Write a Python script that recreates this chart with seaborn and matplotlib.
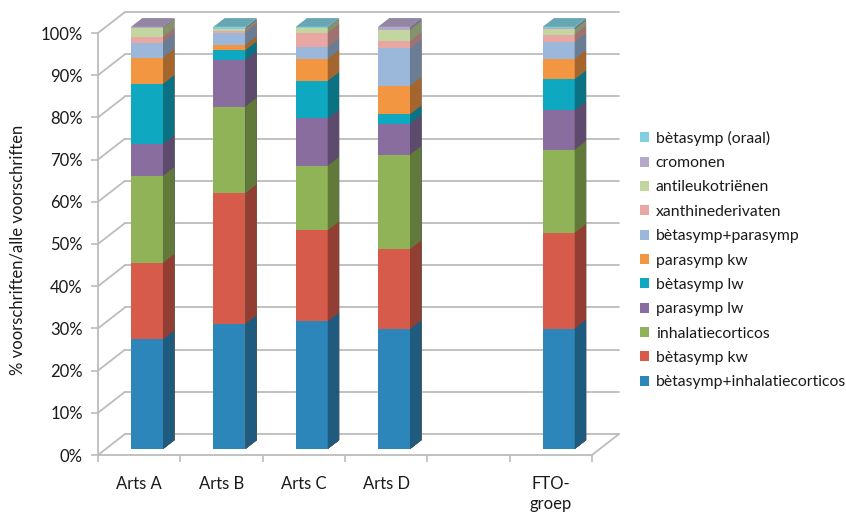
import matplotlib
matplotlib.use("Agg")
import numpy as np
import pandas as pd
import seaborn as sns
import matplotlib.pyplot as plt
from matplotlib import transforms
from matplotlib.patches import Polygon
from matplotlib.lines import Line2D
from matplotlib.colors import to_rgb

# ---- data -----------------------------------------------------------------
categories = ["Arts A", "Arts B", "Arts C", "Arts D", " ", "FTO-\ngroep"]
bar_categories = ["Arts A", "Arts B", "Arts C", "Arts D", "FTO-\ngroep"]

# share of prescriptions (%) per prescriber group, stack order bottom -> top
betasymp_inhalatiecorticos = [26.0, 29.6, 30.2, 28.4, 28.5]
betasymp_kw = [18.1, 31.0, 21.6, 18.9, 22.7]
inhalatiecorticos = [20.6, 20.5, 15.3, 22.4, 19.7]
parasymp_lw = [7.5, 11.0, 11.2, 7.3, 9.3]
betasymp_lw = [14.3, 2.4, 8.9, 2.3, 7.4]
parasymp_kw = [6.2, 1.2, 5.2, 6.7, 4.8]
betasymp_parasymp = [3.6, 2.8, 2.8, 8.9, 4.0]
xanthinederivaten = [1.3, 0.5, 3.4, 1.7, 1.8]
antileukotrienen = [2.2, 0.4, 1.2, 2.7, 1.2]
cromonen = [0.2, 0.2, 0.0, 0.7, 0.3]
betasymp_oraal = [0.0, 0.4, 0.2, 0.0, 0.3]

series_names = [
    "bètasymp+inhalatiecorticos", "bètasymp kw", "inhalatiecorticos",
    "parasymp lw", "bètasymp lw", "parasymp kw", "bètasymp+parasymp",
    "xanthinederivaten", "antileukotriënen", "cromonen", "bètasymp (oraal)",
]
series_values = [
    betasymp_inhalatiecorticos, betasymp_kw, inhalatiecorticos, parasymp_lw,
    betasymp_lw, parasymp_kw, betasymp_parasymp, xanthinederivaten,
    antileukotrienen, cromonen, betasymp_oraal,
]
series_colors = [
    "#2C86BA", "#D65B4B", "#8FB356", "#8A6D9F", "#0EA8C0", "#F39642",
    "#9BB8DA", "#E9A7A4", "#C4D6A0", "#B6A8CA", "#82CFDF",
]
y_ticks = list(range(0, 101, 10))

# long table with the cumulative top of every segment
rows = []
for name, vals in zip(series_names, series_values):
    for cat, v in zip(bar_categories, vals):
        rows.append({"groep": cat, "reeks": name, "waarde": v})
df = pd.DataFrame(rows)
df["reeks"] = pd.Categorical(df["reeks"], categories=series_names, ordered=True)
df = df.sort_values(["groep", "reeks"])
df["top"] = df.groupby("groep")["waarde"].cumsum()

# ---- style ----------------------------------------------------------------
sns.set_style("white")
plt.rcParams["font.family"] = ["Lato", "DejaVu Sans"]
TEXT = "#1a1a1a"
GRID = "#bcbcbc"

DPI = 100
W, H = 846, 514
fig = plt.figure(figsize=(W / DPI, H / DPI), dpi=DPI)
fig.patch.set_facecolor("white")
ax = fig.add_axes([98 / W, (H - 455) / H, 494 / W, 422 / H])
ax.set_facecolor("none")

# depth of the box (pixels) and where the bars sit inside it
DEPTH = np.array([27.0, 21.0])
D0, D1 = 0.29, 0.71


def shifted(d):
    return ax.transData + transforms.ScaledTranslation(
        DEPTH[0] * d / DPI, DEPTH[1] * d / DPI, fig.dpi_scale_trans)


def disp(x, y, d):
    return ax.transData.transform((x, y)) + DEPTH * d


def shade(color, f):
    return tuple(np.clip(np.array(to_rgb(color)) * f, 0, 1))


# ---- front faces: cumulative bars, tallest layer first -------------------
layers = []
for k in range(len(series_names) - 1, -1, -1):
    name = series_names[k]
    sub = df[df["reeks"] == name]
    n0 = len(ax.patches)
    sns.barplot(data=sub, x="groep", y="top", order=categories,
                color=series_colors[k], saturation=1, width=0.39,
                errorbar=None, linewidth=0, label=name, ax=ax)
    layers.append((k, list(ax.patches[n0:])))

if ax.get_legend() is not None:
    ax.get_legend().remove()

ax.set_xlim(-0.5, len(categories) - 0.5)
ax.set_ylim(0, 100)
ax.autoscale(False)
ident = transforms.IdentityTransform()

# ---- box: back wall grid, left wall and floor -----------------------------
x_lo, x_hi = -0.5, len(categories) - 0.5
for v in y_ticks:
    a, b = disp(x_lo, v, 1), disp(x_hi, v, 1)
    ax.add_line(Line2D([a[0], b[0]], [a[1], b[1]], color=GRID, lw=1.3,
                       transform=ident, clip_on=False, zorder=0.5))
    a, b = disp(x_lo, v, 0), disp(x_lo, v, 1)
    ax.add_line(Line2D([a[0], b[0]], [a[1], b[1]], color=GRID, lw=1.3,
                       transform=ident, clip_on=False, zorder=0.5))
a, b = disp(x_hi, 0, 0), disp(x_hi, 0, 1)
ax.add_line(Line2D([a[0], b[0]], [a[1], b[1]], color=GRID, lw=1.3,
                   transform=ident, clip_on=False, zorder=0.5))

# ---- bars: shift fronts into the box, add side and top faces -------------
z = 2
for k, patches in layers:
    for p in patches:
        p.set_transform(shifted(D0))
        p.set_clip_on(False)
        p.set_zorder(z)
        x1 = p.get_x() + p.get_width()
        h = p.get_height()
        side = [disp(x1, 0, D0), disp(x1, h, D0), disp(x1, h, D1), disp(x1, 0, D1)]
        ax.add_patch(Polygon(side, closed=True, transform=ident, clip_on=False,
                             facecolor=shade(series_colors[k], 0.68),
                             edgecolor="none", zorder=z))
    z += 1

# top faces take the colour of the highest non-empty segment
top_layer = layers[0][1]
for i, p in enumerate(top_layer):
    vals = [s[i] for s in series_values]
    kk = max(j for j, v in enumerate(vals) if v > 0)
    x0, x1, h = p.get_x(), p.get_x() + p.get_width(), p.get_height()
    top = [disp(x0, h, D0), disp(x1, h, D0), disp(x1, h, D1), disp(x0, h, D1)]
    ax.add_patch(Polygon(top, closed=True, transform=ident, clip_on=False,
                         facecolor=shade(series_colors[kk], 0.8),
                         edgecolor="none", zorder=z))

# ---- axes -----------------------------------------------------------------
for s in ["top", "right"]:
    ax.spines[s].set_visible(False)
for s in ["left", "bottom"]:
    ax.spines[s].set_color(GRID)
    ax.spines[s].set_linewidth(1.3)
    ax.spines[s].set_zorder(0.5)

ax.set_yticks(y_ticks)
ax.set_yticklabels([f"{v}%" for v in y_ticks], fontsize=12, color=TEXT)
ax.tick_params(axis="y", length=5, width=1.2, color=GRID, pad=6, left=True)

ax.set_xticks(range(len(categories)))
ax.set_xticklabels(categories, fontsize=12, color=TEXT, linespacing=1.3)
ax.set_xticks(np.arange(-0.5, len(categories), 1.0), minor=True)
ax.tick_params(axis="x", which="major", length=0, pad=15)
ax.tick_params(axis="x", which="minor", length=5, width=1.2, color=GRID,
               bottom=True)
ax.set_xlabel("")
ax.set_ylabel("")
fig.text(18 / W, 1 - 250 / H, "% voorschriften/alle voorschriften",
         rotation=90, ha="center", va="center", fontsize=12, color=TEXT)

# ---- legend ---------------------------------------------------------------
handles, labels = ax.get_legend_handles_labels()
leg = fig.legend(handles, labels, loc="center left",
                 bbox_to_anchor=(640 / W, 1 - 260 / H), frameon=False,
                 fontsize=11.3, handlelength=0.6, handleheight=0.6,
                 handletextpad=0.4, labelspacing=0.66, borderpad=0,
                 borderaxespad=0)
for t in leg.get_texts():
    t.set_color(TEXT)

fig.savefig("out.png", dpi=DPI, facecolor="white")
